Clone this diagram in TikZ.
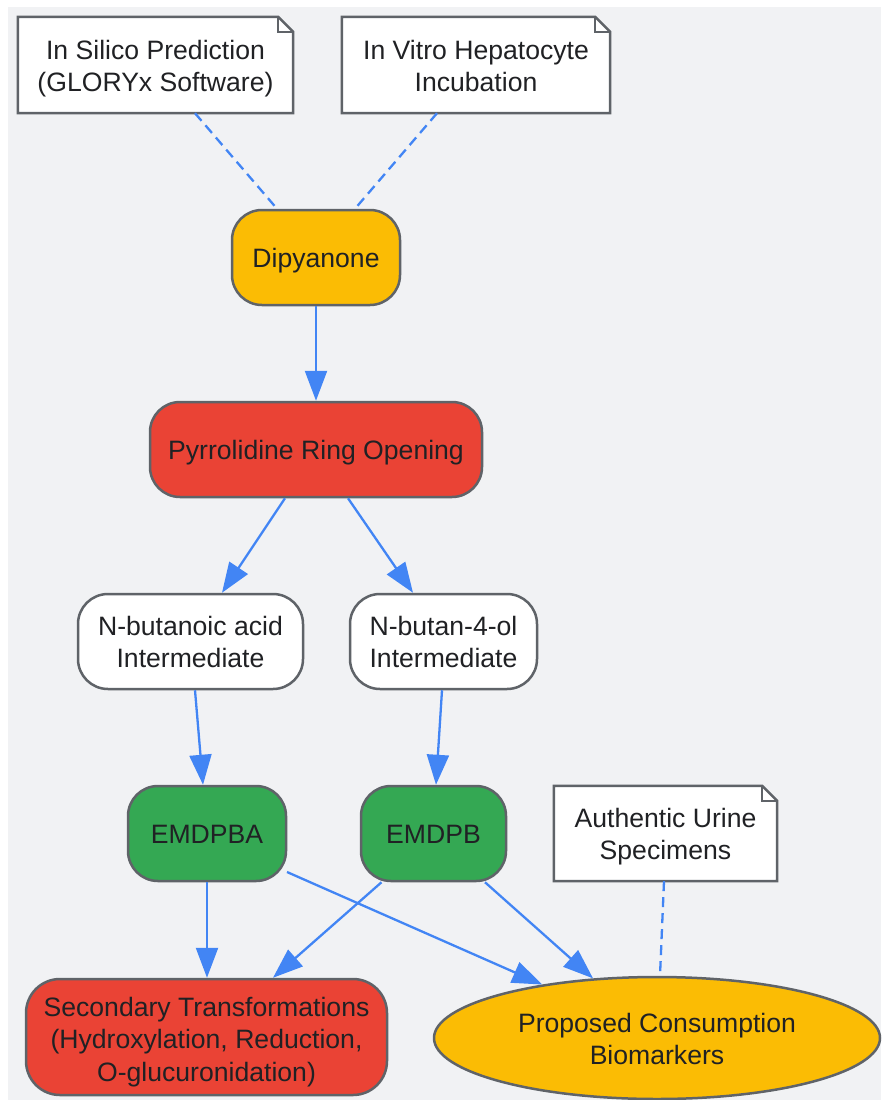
\documentclass[tikz,border=0pt]{standalone}
\usepackage{fontspec}
\setmainfont{Liberation Sans}
\usetikzlibrary{arrows.meta,shapes.geometric,backgrounds,calc}
\definecolor{bgc}{HTML}{F1F2F4}
\definecolor{yel}{HTML}{FBBC04}
\definecolor{redc}{HTML}{EA4335}
\definecolor{grn}{HTML}{34A853}
\definecolor{blu}{HTML}{4285F4}
\definecolor{brd}{HTML}{5F6368}
\definecolor{txt}{HTML}{202124}
\newcommand{\topstrut}{\rule{0pt}{26pt}}
\newcommand{\topstrutx}{\rule{0pt}{29pt}}
\newcommand{\botstrut}{\rule[-6pt]{0pt}{6pt}}
\tikzset{
  base/.style={inner sep=0pt, align=center, text=txt, font=\fontsize{26.6}{32}\selectfont},
  proc/.style={base, draw=brd, line width=2.5pt, rounded corners=30pt},
  notebox/.style={base},
  noteshape/.style={draw=brd, fill=white, line width=2.5pt},
  flow/.style={draw=blu, line width=2.3pt, -{Triangle[length=30pt,width=22pt]}},
  link/.style={draw=blu, line width=2.3pt, dash pattern=on 10pt off 6pt},
}
\begin{document}
\begin{tikzpicture}[x=1pt,y=-1pt]
\useasboundingbox (0,0) rectangle (881,1100);
% nodes
\node[notebox, minimum width=275pt, minimum height=96pt] (silico) at (155.5,65) {\topstrut In Silico Prediction\\(GLORYx Software)\botstrut};
\node[notebox, minimum width=268pt, minimum height=96pt] (vitro) at (476,65) {\topstrut In Vitro Hepatocyte\\Incubation\botstrut};
\node[proc, fill=yel, minimum width=168pt, minimum height=95pt] (dip) at (316,257.5) {\topstrut Dipyanone\botstrut};
\node[proc, fill=redc, minimum width=332pt, minimum height=95pt] (pyr) at (316,449.5) {\topstrut Pyrrolidine Ring Opening\botstrut};
\node[proc, fill=white, minimum width=225pt, minimum height=95pt] (nba) at (190.5,641.5) {\topstrut N-butanoic acid\\Intermediate\botstrut};
\node[proc, fill=white, minimum width=187pt, minimum height=95pt] (nbo) at (443.5,641.5) {\topstrut N-butan-4-ol\\Intermediate\botstrut};
\node[proc, fill=grn, minimum width=158pt, minimum height=95pt] (emdpba) at (207,833.5) {\topstrut EMDPBA\botstrut};
\node[proc, fill=grn, minimum width=145pt, minimum height=95pt] (emdpb) at (433.5,833.5) {\topstrut EMDPB\botstrut};
\node[notebox, minimum width=223pt, minimum height=95pt] (urine) at (665.5,833.5) {\topstrut Authentic Urine\\Specimens\botstrut};
\node[proc, fill=redc, rounded corners=34pt, minimum width=361pt, minimum height=116pt, font=\fontsize{26.6}{32.5}\selectfont] (sec) at (206.5,1037) {\topstrutx Secondary Transformations\\(Hydroxylation, Reduction,\\O-glucuronidation)\botstrut};
\node[base, ellipse, draw=brd, line width=2.5pt, fill=yel, minimum width=446pt, minimum height=122pt] (prop) at (657,1038) {\topstrut Proposed Consumption\\Biomarkers\botstrut};
% background and notes
\begin{scope}[on background layer]
  \fill[bgc] (8,7) rectangle (881,1100);
  \foreach \n in {silico,vitro,urine}{
    \draw[noteshape] (\n.south west) -- (\n.north west) -- ([xshift=-15pt]\n.north east) -- ([yshift=-15pt]\n.north east) -- (\n.south east) -- cycle;
    \draw[draw=brd, line width=2.5pt] ([xshift=-15pt]\n.north east) -- ([xshift=-15pt,yshift=-15pt]\n.north east) -- ([yshift=-15pt]\n.north east);
  }
\end{scope}
% connectors
\draw[link] ([xshift=39.5pt]silico.south) -- ([xshift=-39pt]dip.north);
\draw[link] ([xshift=-39pt]vitro.south) -- ([xshift=39pt]dip.north);
\draw[flow] (dip.south) -- (pyr.north);
\draw[flow] ([xshift=-31pt]pyr.south) -- ([xshift=31.5pt]nba.north);
\draw[flow] ([xshift=32pt]pyr.south) -- ([xshift=-30.5pt]nbo.north);
\draw[flow] ([xshift=4.5pt]nba.south) -- ([xshift=-4pt]emdpba.north);
\draw[flow] ([xshift=-1.5pt]nbo.south) -- ([xshift=2.5pt]emdpb.north);
\draw[flow] (emdpba.south) -- (emdpba.south |- sec.north);
\draw[flow] ([xshift=80pt,yshift=-38.5pt]emdpba.center) -- (prop.155);
\draw[flow] ([xshift=-52pt]emdpb.south) -- ([xshift=66.5pt]sec.north);
\draw[flow] ([xshift=51.5pt]emdpb.south) -- (prop.137);
\draw[link] ([xshift=-1.5pt]urine.south) -- ([xshift=3pt]prop.north);
\end{tikzpicture}
\end{document}
